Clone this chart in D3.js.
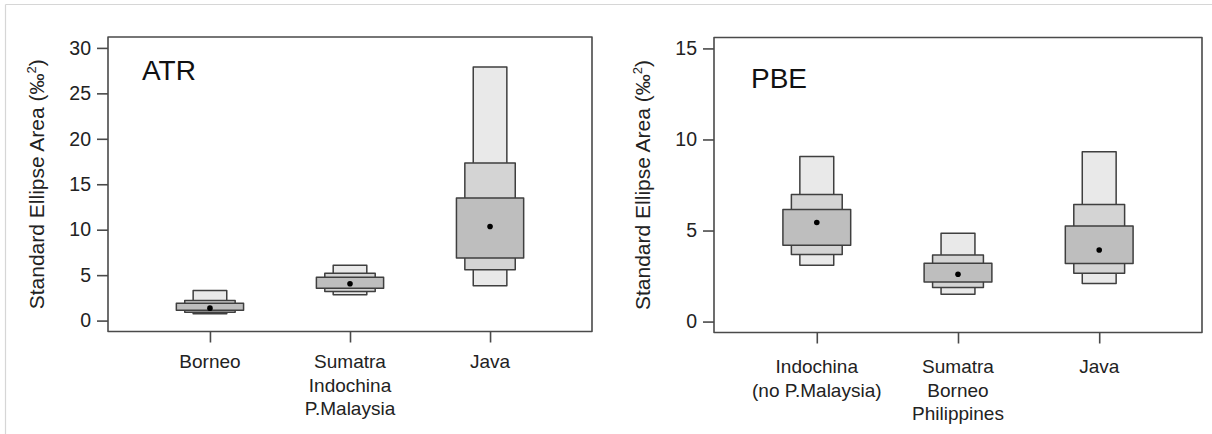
<!DOCTYPE html>
<html>
<head>
<meta charset="utf-8">
<script src="https://cdn.jsdelivr.net/npm/d3@7/dist/d3.min.js"></script>
<style>
  html, body { margin: 0; padding: 0; background: #fff; }
  svg { display: block; font-family: "Liberation Sans", Arial, Helvetica, sans-serif; }
</style>
</head>
<body>
<svg id="chart" width="1212" height="434"></svg>
<script>
// ---------- data ----------
const atrCategories = [["Borneo"], ["Sumatra", "Indochina", "P.Malaysia"], ["Java"]];
const atrMode  = [1.37, 4.05, 10.36];
const atr95Lo  = [0.75, 2.83, 3.83];
const atr95Hi  = [3.30, 6.10, 27.90];
const atr75Lo  = [0.92, 3.20, 5.59];
const atr75Hi  = [2.20, 5.20, 17.35];
const atr50Lo  = [1.15, 3.57, 6.88];
const atr50Hi  = [1.90, 4.78, 13.50];
const atrTicks = [0, 5, 10, 15, 20, 25, 30];

const pbeCategories = [["Indochina", "(no P.Malaysia)"], ["Sumatra", "Borneo", "Philippines"], ["Java"]];
const pbeMode  = [5.44, 2.60, 3.93];
const pbe95Lo  = [3.09, 1.50, 2.09];
const pbe95Hi  = [9.07, 4.85, 9.32];
const pbe75Lo  = [3.68, 1.87, 2.65];
const pbe75Hi  = [6.98, 3.66, 6.43];
const pbe50Lo  = [4.19, 2.18, 3.19];
const pbe50Hi  = [6.15, 3.20, 5.25];
const pbeTicks = [0, 5, 10, 15];

const intervalWidths = [0.24, 0.36, 0.48];   // 95%, 75%, 50% boxes (category units)
const intervalFills  = ["#e9e9e9", "#d4d4d4", "#bebebe"];

const svg = d3.select("#chart");

// outer screenshot frame
svg.append("line").attr("x1", 5.5).attr("x2", 1212).attr("y1", 4.5).attr("y2", 4.5)
  .attr("stroke", "#d6d6d6").attr("stroke-width", 1.2);
svg.append("line").attr("x1", 5.5).attr("x2", 5.5).attr("y1", 4.5).attr("y2", 434)
  .attr("stroke", "#d6d6d6").attr("stroke-width", 1.2);

function panel(opts) {
  const { left, right, top, bottom, yMax, ticks, cats, mode, lo95, hi95, lo75, hi75, lo50, hi50,
          title, titleX, titleY, xLabelY } = opts;
  const pad = yMax * 0.04;
  const y = d3.scaleLinear().domain([-pad, yMax + pad]).range([bottom, top]);
  const x = d3.scaleLinear().domain([0.4 - 0.128, 3.6 + 0.128]).range([left, right]);
  const g = svg.append("g");
  const axisColor = "#4a4a4a";

  // boxes: 95, 75, 50 drawn back to front
  const levels = [[lo95, hi95], [lo75, hi75], [lo50, hi50]];
  levels.forEach((lv, li) => {
    const w = intervalWidths[li];
    g.selectAll(null).data(cats.map((c, i) => i)).enter().append("rect")
      .attr("x", i => x(i + 1 - w / 2))
      .attr("width", i => x(i + 1 + w / 2) - x(i + 1 - w / 2))
      .attr("y", i => y(lv[1][i]))
      .attr("height", i => y(lv[0][i]) - y(lv[1][i]))
      .attr("fill", intervalFills[li])
      .attr("stroke", "#3f3f3f")
      .attr("stroke-width", 1.5)
      .attr("stroke-linejoin", "round");
  });
  // modes
  g.selectAll(null).data(mode).enter().append("circle")
    .attr("cx", (d, i) => x(i + 1)).attr("cy", d => y(d)).attr("r", 2.8).attr("fill", "#000");

  // frame
  g.append("rect").attr("x", left).attr("y", top).attr("width", right - left).attr("height", bottom - top)
    .attr("fill", "none").attr("stroke", axisColor).attr("stroke-width", 1.6).attr("stroke-linejoin", "round");

  // y axis
  const yAxis = d3.axisLeft(y).tickValues(ticks).tickSize(11).tickPadding(6).tickFormat(d3.format("d"));
  const ya = g.append("g").attr("transform", `translate(${left},0)`).call(yAxis);
  ya.select(".domain").remove();
  ya.selectAll("line").attr("stroke", axisColor).attr("stroke-width", 1.6);
  ya.selectAll("text").attr("font-size", 19.5).attr("fill", "#222")
    .attr("font-family", "'Liberation Sans', Arial, sans-serif");

  // x axis
  const xAxis = d3.axisBottom(x).tickValues([1, 2, 3]).tickSize(11).tickFormat("");
  const xa = g.append("g").attr("transform", `translate(0,${bottom})`).call(xAxis);
  xa.select(".domain").remove();
  xa.selectAll("line").attr("stroke", axisColor).attr("stroke-width", 1.6);

  cats.forEach((lines, i) => {
    const t = g.append("text").attr("text-anchor", "middle").attr("font-size", 19).attr("fill", "#222");
    lines.forEach((ln, k) => {
      t.append("tspan").attr("x", x(i + 1)).attr("y", xLabelY + k * 23.5).text(ln);
    });
  });

  // y title
  const ty = g.append("text")
    .attr("transform", `translate(${left - 64},${(top + bottom) / 2}) rotate(-90)`)
    .attr("text-anchor", "middle").attr("font-size", 21).attr("fill", "#222");
  ty.append("tspan").text("Standard Ellipse Area (‰");
  ty.append("tspan").attr("font-size", 13).attr("dy", -8).text("2");
  ty.append("tspan").attr("dy", 8).text(")");

  // panel title
  g.append("text").attr("x", titleX).attr("y", titleY).attr("font-size", 28).attr("fill", "#111").text(title);
}

panel({ left: 108, right: 592, top: 37, bottom: 331.5, yMax: 30, ticks: atrTicks, cats: atrCategories,
        mode: atrMode, lo95: atr95Lo, hi95: atr95Hi, lo75: atr75Lo, hi75: atr75Hi, lo50: atr50Lo, hi50: atr50Hi,
        title: "ATR", titleX: 142, titleY: 80, xLabelY: 368 });
panel({ left: 714, right: 1202, top: 37.5, bottom: 332.5, yMax: 15, ticks: pbeTicks, cats: pbeCategories,
        mode: pbeMode, lo95: pbe95Lo, hi95: pbe95Hi, lo75: pbe75Lo, hi75: pbe75Hi, lo50: pbe50Lo, hi50: pbe50Hi,
        title: "PBE", titleX: 751, titleY: 88, xLabelY: 373 });
</script>
</body>
</html>
